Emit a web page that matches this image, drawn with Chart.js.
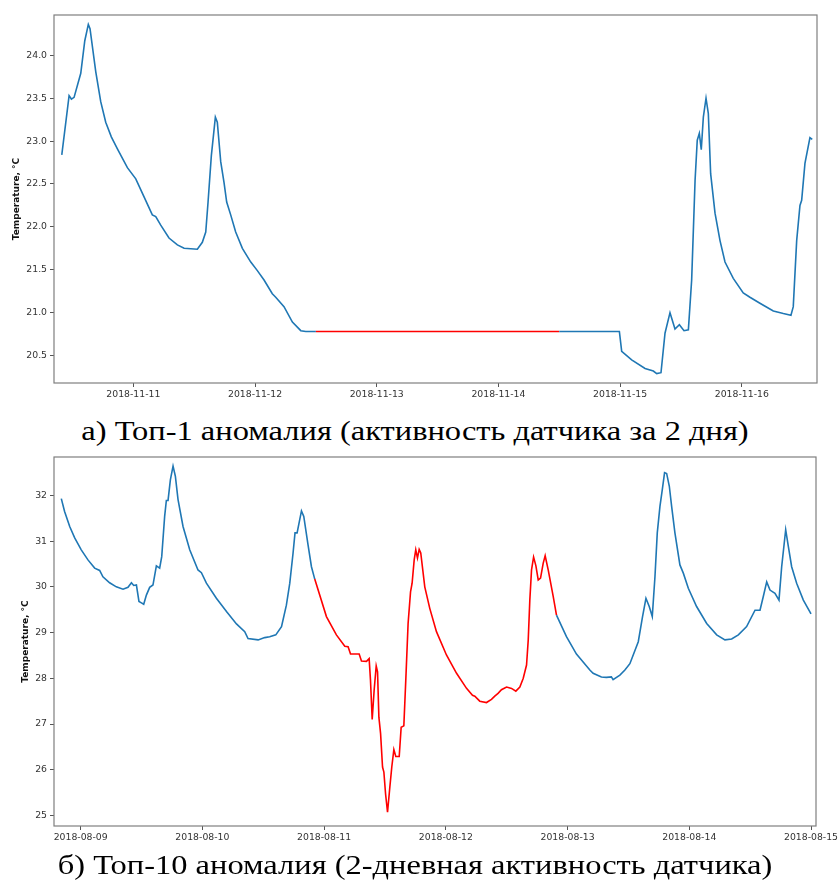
<!DOCTYPE html>
<html>
<head>
<meta charset="utf-8">
<script src="https://cdn.jsdelivr.net/npm/chart.js@4.4.0/dist/chart.umd.min.js"></script>
<style>
  body { margin: 0; background: #fff; width: 839px; height: 888px; position: relative; overflow: hidden; }
  .box { position: absolute; left: 0; width: 839px; }
  .caption { position: absolute; left: 0; width: 830px; text-align: center; font-family: "Liberation Serif", serif; font-size: 28px; color: #000; white-space: nowrap; transform: scaleX(1.16); transform-origin: 415px 50%; }
</style>
</head>
<body>
<div class="box" style="top:0;height:410px"><canvas id="chart1"></canvas></div>
<div class="caption" style="top:415px">а) Топ-1 аномалия (активность датчика за 2 дня)</div>
<div class="box" style="top:444px;height:410px"><canvas id="chart2"></canvas></div>
<div class="caption" style="top:849px">б) Топ-10 аномалия (2-дневная активность датчика)</div>
<script>
// Top chart: x = days since 2018-11-10 00:00
const days1 = [0.412,0.472,0.491,0.513,0.568,0.601,0.630,0.644,0.691,0.732,
  0.773,0.819,0.869,0.951,1.020,1.088,1.156,1.184,1.225,1.293,
  1.362,1.417,1.526,1.567,1.595,1.614,1.641,1.674,1.690,1.718,
  1.745,1.767,1.800,1.841,1.896,1.965,2.019,2.074,2.142,2.170,
  2.238,2.307,2.376,2.417,2.5,3.0,3.5,4.0,4.5,4.994,
  5.013,5.095,5.205,5.273,5.301,5.336,5.369,5.410,5.451,5.487,
  5.525,5.561,5.588,5.616,5.634,5.651,5.667,5.684,5.706,5.725,
  5.744,5.780,5.821,5.862,5.930,6.012,6.067,6.149,6.259,6.341,
  6.404,6.423,6.451,6.478,6.492,6.519,6.560,6.579];
const temp1 = [22.84,23.53,23.49,23.51,23.79,24.17,24.36,24.31,23.81,23.46,
  23.22,23.05,22.91,22.69,22.56,22.35,22.14,22.12,22.02,21.87,
  21.79,21.75,21.74,21.82,21.94,22.29,22.83,23.28,23.22,22.76,
  22.52,22.29,22.14,21.94,21.75,21.59,21.49,21.38,21.22,21.18,
  21.07,20.89,20.79,20.78,20.78,20.78,20.78,20.78,20.78,20.78,
  20.55,20.45,20.35,20.32,20.29,20.30,20.76,21.00,20.81,20.86,
  20.79,20.80,21.38,22.54,23.01,23.09,22.90,23.28,23.50,23.32,
  22.62,22.16,21.84,21.59,21.40,21.23,21.18,21.11,21.02,20.99,
  20.97,21.07,21.84,22.25,22.31,22.74,23.04,23.02];
const anomaly1 = [2.5, 4.5];
const xTicks1 = [1, 2, 3, 4, 5, 6];
const xLabels1 = ['2018-11-11','2018-11-12','2018-11-13','2018-11-14','2018-11-15','2018-11-16'];
const yTicks1 = [20.5, 21.0, 21.5, 22.0, 22.5, 23.0, 23.5, 24.0];

// Bottom chart: x = days since 2018-08-08 00:00
const days2 = [0.841,0.868,0.910,0.951,1.005,1.060,1.115,1.156,1.183,1.238,
  1.293,1.348,1.389,1.417,1.436,1.458,1.479,1.499,1.518,1.540,
  1.567,1.594,1.622,1.649,1.666,1.690,1.704,1.718,1.737,1.759,
  1.778,1.800,1.841,1.896,1.964,1.992,2.033,2.115,2.198,2.280,
  2.348,2.375,2.458,2.512,2.553,2.603,2.650,2.690,2.718,2.745,
  2.761,2.778,2.814,2.833,2.868,2.896,2.923,3.019,3.101,3.170,
  3.197,3.217,3.288,3.307,3.348,3.370,3.381,3.395,3.411,3.428,
  3.439,3.450,3.464,3.480,3.491,3.505,3.521,3.540,3.556,3.573,
  3.589,3.617,3.633,3.655,3.671,3.690,3.710,3.723,3.740,3.753,
  3.767,3.781,3.794,3.827,3.868,3.923,4.005,4.088,4.170,4.219,
  4.238,4.279,4.334,4.375,4.402,4.429,4.457,4.499,4.540,4.575,
  4.608,4.636,4.663,4.677,4.690,4.704,4.721,4.740,4.759,4.778,
  4.800,4.816,4.841,4.882,4.909,4.991,5.073,5.183,5.210,5.278,
  5.319,5.360,5.374,5.430,5.471,5.512,5.581,5.616,5.644,5.671,
  5.696,5.718,5.737,5.759,5.778,5.797,5.814,5.836,5.855,5.882,
  5.923,5.951,5.992,6.060,6.143,6.225,6.293,6.348,6.403,6.471,
  6.540,6.581,6.608,6.636,6.663,6.704,6.737,6.759,6.792,6.814,
  6.841,6.882,6.937,7.000];
const temp2 = [31.93,31.65,31.32,31.07,30.81,30.59,30.41,30.36,30.22,30.09,
  30.00,29.95,29.99,30.09,30.03,30.04,29.68,29.65,29.62,29.82,
  29.99,30.04,30.46,30.41,30.66,31.54,31.89,31.89,32.34,32.64,
  32.42,31.91,31.32,30.81,30.37,30.31,30.08,29.75,29.46,29.19,
  29.02,28.87,28.84,28.89,28.91,28.95,29.13,29.60,30.08,30.74,
  31.18,31.18,31.66,31.54,30.92,30.44,30.17,29.35,28.95,28.70,
  28.69,28.53,28.53,28.38,28.37,28.43,27.96,27.10,27.74,28.27,
  28.14,27.15,26.79,26.06,25.95,25.47,25.07,25.62,26.06,26.44,
  26.29,26.29,26.93,26.96,27.96,29.20,29.89,30.08,30.59,30.81,
  30.63,30.82,30.74,30.00,29.53,29.02,28.51,28.11,27.78,27.63,
  27.61,27.50,27.47,27.54,27.61,27.67,27.75,27.81,27.78,27.72,
  27.81,28.00,28.29,28.84,29.71,30.37,30.65,30.46,30.15,30.19,
  30.52,30.68,30.37,29.79,29.38,28.91,28.53,28.18,28.11,28.03,
  28.02,28.03,27.97,28.07,28.18,28.32,28.80,29.35,29.75,29.57,
  29.35,30.22,31.18,31.76,32.12,32.50,32.48,32.20,31.76,31.18,
  30.48,30.30,29.97,29.57,29.20,28.95,28.84,28.86,28.95,29.13,
  29.49,29.49,29.79,30.11,29.93,29.86,29.71,30.44,31.25,30.88,
  30.44,30.08,29.71,29.41];
const anomaly2 = [2.92, 4.91];
const xTicks2 = [1, 2, 3, 4, 5, 6, 7];
const xLabels2 = ['2018-08-09','2018-08-10','2018-08-11','2018-08-12','2018-08-13','2018-08-14','2018-08-15'];
const yTicks2 = [25, 26, 27, 28, 29, 30, 31, 32];

const BLUE = '#1f77b4';
const RED = '#ff0000';
const tickFont = { family: 'DejaVu Sans', size: 9.3 };

// grey frame around the plot area
const frame = {
  id: 'frame',
  afterDraw(chart) {
    const a = chart.chartArea, ctx = chart.ctx;
    ctx.save();
    ctx.strokeStyle = '#7f7f7f';
    ctx.lineWidth = 1.2;
    ctx.strokeRect(a.left, a.top, a.right - a.left, a.bottom - a.top);
    ctx.restore();
  }
};

function makeChart(id, cfg) {
  const pts = cfg.days.map((d, i) => ({ x: d, y: cfg.temps[i] }));
  new Chart(document.getElementById(id), {
    type: 'line',
    data: {
      datasets: [{
        data: pts,
        borderColor: BLUE,
        borderWidth: 1.6,
        pointRadius: 0,
        tension: 0,
        segment: {
          borderColor: c => (c.p0.parsed.x >= cfg.anomaly[0] - 1e-6 && c.p1.parsed.x <= cfg.anomaly[1] + 1e-6) ? RED : BLUE
        }
      }]
    },
    options: {
      responsive: true,
      maintainAspectRatio: false,
      animation: false,
      devicePixelRatio: 1,
      layout: { padding: { top: cfg.padTop, right: cfg.padRight, left: 0, bottom: 0 } },
      plugins: { legend: { display: false }, tooltip: { enabled: false } },
      scales: {
        x: {
          type: 'linear',
          min: cfg.xMin, max: cfg.xMax,
          afterBuildTicks: s => { s.ticks = cfg.xTicks.map(v => ({ value: v })); },
          afterFit: s => { s.height = cfg.xAxisH; s.paddingLeft = 0; s.paddingRight = 0; },
          ticks: {
            autoSkip: false, maxRotation: 0, padding: 2, color: '#333', font: tickFont,
            callback: (v, i) => cfg.xLabels[i]
          },
          grid: { drawOnChartArea: false, drawTicks: true, tickLength: 4, color: '#555' },
          border: { display: false }
        },
        y: {
          min: cfg.yMin, max: cfg.yMax,
          afterBuildTicks: s => { s.ticks = cfg.yTicks.map(v => ({ value: v })); },
          afterFit: s => { s.width = 54; s.paddingTop = 0; s.paddingBottom = 0; },
          ticks: {
            padding: 3, color: '#333', font: tickFont,
            callback: v => cfg.yFmt(v)
          },
          grid: { drawOnChartArea: false, drawTicks: true, tickLength: 4, color: '#555' },
          border: { display: false },
          title: {
            display: true, text: 'Temperature, °C', color: '#111',
            font: { family: 'DejaVu Sans', size: 9, weight: 'bold' },
            padding: { top: cfg.titlePad, bottom: 0 }
          }
        }
      }
    },
    plugins: [frame]
  });
}

makeChart('chart1', {
  days: days1, temps: temp1, anomaly: anomaly1,
  xMin: 0.348, xMax: 6.618, yMin: 20.18, yMax: 24.47,
  xTicks: xTicks1, xLabels: xLabels1, yTicks: yTicks1,
  yFmt: v => v.toFixed(1),
  padTop: 15, padRight: 22, xAxisH: 27, titlePad: 10.8
});

makeChart('chart2', {
  days: days2, temps: temp2, anomaly: anomaly2,
  xMin: 0.781, xMax: 7.041, yMin: 24.77, yMax: 32.84,
  xTicks: xTicks2, xLabels: xLabels2, yTicks: yTicks2,
  yFmt: v => String(v),
  padTop: 13, padRight: 23, xAxisH: 28, titlePad: 20
});
</script>
</body>
</html>
